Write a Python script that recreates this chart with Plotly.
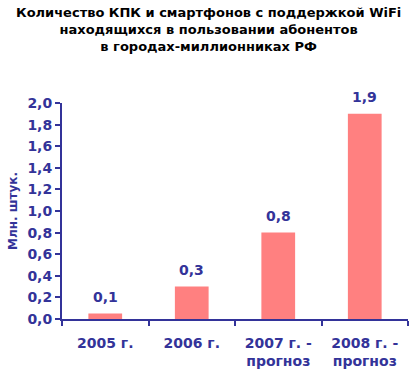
import plotly.graph_objects as go

categories = ["2005 г.", "2006 г.", "2007 г. -<br>прогноз", "2008 г. -<br>прогноз"]
values = [0.05, 0.3, 0.8, 1.9]
labels = ["0,1", "0,3", "0,8", "1,9"]
y_ticks = [0, 0.2, 0.4, 0.6, 0.8, 1.0, 1.2, 1.4, 1.6, 1.8, 2.0]
title_text = ("Количество КПК и смартфонов с поддержкой WiFi<br>"
              "находящихся в пользовании абонентов<br>в городах-миллионниках РФ")
y_title = "Млн. штук."

NAVY = "#333399"
FONT = "DejaVu Sans"

fig = go.Figure()
fig.add_trace(go.Bar(
    x=categories, y=values, marker=dict(color="#FF8080", line=dict(width=0)),
    width=0.39, cliponaxis=False, hoverinfo="skip",
))

for c, v, t in zip(categories, values, labels):
    fig.add_annotation(
        x=c, y=v, text="<b>" + t + "</b>", showarrow=False,
        yanchor="bottom", yshift=7,
        font=dict(family=FONT, size=14, color=NAVY),
    )

fig.add_annotation(
    text="<b>" + title_text + "</b>", xref="paper", yref="paper",
    x=(208 - 62) / 346, y=1.463, xanchor="center", yanchor="top", showarrow=False,
    font=dict(family=FONT, size=13, color="black"),
)

fig.update_layout(
    width=420, height=374,
    margin=dict(l=62, r=12, t=103, b=55),
    paper_bgcolor="white", plot_bgcolor="white",
    separators=", ",
    showlegend=False,
    font=dict(family=FONT, color=NAVY),
)
fig.update_xaxes(
    automargin=False,
    showline=True, linecolor=NAVY, linewidth=2,
    ticks="outside", tickson="boundaries", ticklen=5, tickcolor=NAVY, tickwidth=2,
    ticklabelstandoff=10,
    tickfont=dict(family=FONT, size=14, color=NAVY, weight="bold"),
    showgrid=False, zeroline=False,
)
fig.update_yaxes(
    automargin=False,
    range=[0, 2.0], tickvals=y_ticks, tickformat=".1f",
    showline=True, linecolor=NAVY, linewidth=2,
    ticks="outside", ticklen=5, tickcolor=NAVY, tickwidth=2,
    tickfont=dict(family=FONT, size=14, color=NAVY, weight="bold"),
    showgrid=False, zeroline=False,
    title=dict(text=y_title, standoff=7,
               font=dict(family=FONT, size=12, color=NAVY, weight="bold")),
)

fig.write_html("out.html", config={"displayModeBar": False},
               post_script="document.body.style.margin='0';")
